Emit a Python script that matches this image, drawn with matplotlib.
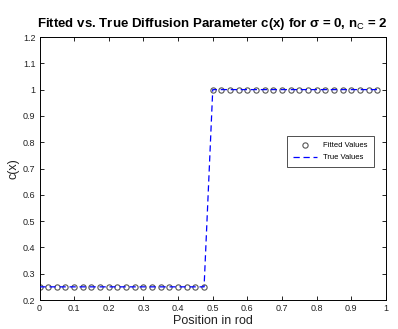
import matplotlib
matplotlib.use("Agg")
import matplotlib.pyplot as plt
import numpy as np

plt.rcParams['font.family'] = ['Liberation Sans', 'DejaVu Sans']
plt.rcParams['mathtext.fontset'] = 'custom'
plt.rcParams['mathtext.rm'] = 'Liberation Sans'

# positions along the rod and the fitted / true diffusion values
x_pos = [0.000, 0.025, 0.050, 0.075, 0.100, 0.125, 0.150, 0.175, 0.200, 0.225,
         0.250, 0.275, 0.300, 0.325, 0.350, 0.375, 0.400, 0.425, 0.450, 0.475,
         0.500, 0.525, 0.550, 0.575, 0.600, 0.625, 0.650, 0.675, 0.700, 0.725,
         0.750, 0.775, 0.800, 0.825, 0.850, 0.875, 0.900, 0.925, 0.950, 0.975]
fitted = [0.25] * 20 + [1.0] * 20
true_vals = [0.25] * 20 + [1.0] * 20

xticks = [0, 0.1, 0.2, 0.3, 0.4, 0.5, 0.6, 0.7, 0.8, 0.9, 1]
xticklabels = ['0', '0.1', '0.2', '0.3', '0.4', '0.5', '0.6', '0.7', '0.8', '0.9', '1']
yticks = [0.2, 0.3, 0.4, 0.5, 0.6, 0.7, 0.8, 0.9, 1, 1.1, 1.2]
yticklabels = ['0.2', '0.3', '0.4', '0.5', '0.6', '0.7', '0.8', '0.9', '1', '1.1', '1.2']

fig = plt.figure(figsize=(3.98, 3.29), dpi=100)
ax = fig.add_axes([39.5 / 398, 1 - 300 / 329, (386 - 39.5) / 398, (300 - 37) / 329])

ax.plot(x_pos, fitted, linestyle='none', marker='o', markersize=3.8,
        markerfacecolor='white', markeredgecolor='#555555', markeredgewidth=0.8,
        label='Fitted Values', zorder=2)
ax.plot(x_pos, true_vals, linestyle=(0, (5, 3)), color='#0000ff', linewidth=0.9,
        label='True Values', zorder=3)

ax.set_xlim(0, 1)
ax.set_ylim(0.2, 1.2)
ax.set_xticks(xticks)
ax.set_xticklabels(xticklabels)
ax.set_yticks(yticks)
ax.set_yticklabels(yticklabels)
ax.tick_params(direction='in', length=3, width=0.6, labelsize=6.5,
               top=True, right=True, pad=3, labelcolor='#222222')
for s in ax.spines.values():
    s.set_linewidth(0.7)

ax.set_xlabel('Position in rod', fontsize=9, labelpad=1, color='#222222')
ax.set_ylabel('c(x)', fontsize=9, labelpad=2, color='#222222')
ax.set_title('Fitted vs. True Diffusion Parameter c(x) for \u03c3 = 0, n$_\\mathrm{C}$ = 2',
             fontsize=9.5, fontweight='bold', pad=7)

leg = ax.legend(loc='upper left', bbox_to_anchor=((283 - 39.5) / 346.5, (300 - 132) / 263),
                fontsize=5.5, frameon=True, fancybox=False, edgecolor='black',
                borderpad=0.8, handlelength=3.2, labelspacing=0.6)
leg.get_frame().set_linewidth(0.6)

fig.savefig('out.png', dpi=100)
